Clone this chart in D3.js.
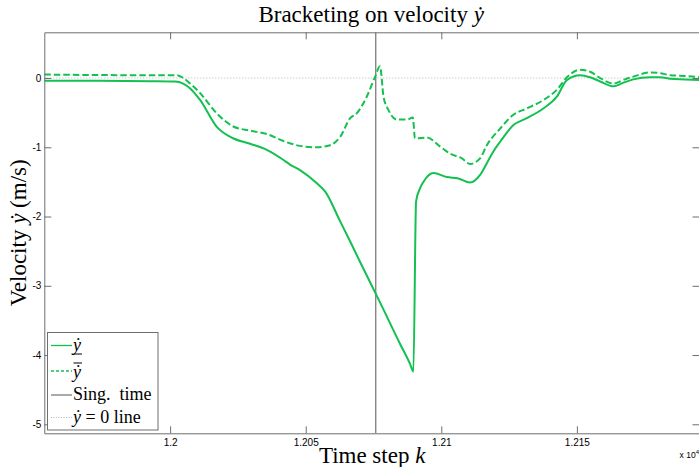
<!DOCTYPE html>
<html><head><meta charset="utf-8">
<script src="https://cdn.jsdelivr.net/npm/d3@7"></script>
<style>html,body{margin:0;padding:0;background:#fff;}svg{display:block;}</style>
</head><body>
<script>
// ---- data ----
const kLower = [11953.6,11974.2,11992.6,12001.8,12004.8,12007.4,12011.1,12017.3,12023.2,12029.5,12035.8,12041.7,12044.2,12047.9,12054.1,12057.2,12062.7,12066.4,12070.1,12077.4,12084.8,12088.5,12089.7,12090.7,12092.2,12093.4,12097.1,12102.0,12106.3,12110.6,12114.3,12116.8,12119.2,12121.7,12126.6,12131.5,12137.6,12142.6,12146.3,12151.2,12154.9,12158.6,12163.5,12167.0,12170.8,12177.0,12180.7,12184.4,12189.9,12195.4];
const vLower = [-0.04,-0.04,-0.045,-0.05,-0.08,-0.15,-0.32,-0.71,-0.87,-0.95,-1.04,-1.18,-1.25,-1.33,-1.52,-1.64,-2.07,-2.36,-2.66,-3.24,-3.84,-4.13,-4.24,-1.78,-1.59,-1.50,-1.37,-1.43,-1.45,-1.51,-1.40,-1.23,-1.06,-0.92,-0.68,-0.58,-0.44,-0.27,-0.03,0.04,0.01,-0.05,-0.12,-0.07,-0.02,0.01,0.01,-0.01,-0.02,-0.03];
const kUpper = [11953.6,11992.6,12002.5,12004.9,12007.4,12011.1,12017.2,12023.3,12029.5,12035.7,12041.8,12047.9,12054.1,12059.0,12062.7,12066.4,12068.8,12072.5,12075.6,12077.4,12078.7,12080.5,12083.6,12087.3,12089.5,12090.3,12094.7,12099.6,12103.2,12107.6,12110.6,12114.3,12116.8,12121.7,12126.6,12131.5,12137.6,12142.6,12146.3,12151.2,12154.9,12158.6,12163.5,12167.0,12170.8,12177.0,12180.7,12184.4,12189.9,12195.4];
const vUpper = [0.05,0.04,0.04,0.0,-0.08,-0.22,-0.51,-0.70,-0.76,-0.81,-0.91,-0.98,-1.00,-0.97,-0.85,-0.58,-0.51,-0.27,0.02,0.17,-0.27,-0.46,-0.60,-0.60,-0.57,-0.87,-0.86,-0.99,-1.09,-1.16,-1.24,-1.16,-0.97,-0.73,-0.53,-0.44,-0.32,-0.17,0.01,0.12,0.09,0.0,-0.08,-0.03,0.02,0.08,0.07,0.04,0.03,0.01];
const singTime = 12075.85;
const xTicks = [12000, 12050, 12100, 12150];
const xTickLabels = ["1.2", "1.205", "1.21", "1.215"];
const yTicks = [0, -1, -2, -3, -4, -5];
const yTickLabels = ["0", "-1", "-2", "-3", "-4", "-5"];
const xDomain = [11953.6, 12195.4];
const yDomain = [-5.13, 0.66];

// ---- layout ----
const W = 699, H = 467;
const L = 44.3, R = 700, T = 32.3, B = 433.3;
const green = "#12c150";
const serif = "'Liberation Serif', 'Times New Roman', serif";
const sans = "'Liberation Sans', Arial, sans-serif";

const svg = d3.select("body").append("svg").attr("width", W).attr("height", H);
const x = d3.scaleLinear().domain(xDomain).range([L, R]);
const y = d3.scaleLinear().domain(yDomain).range([B, T]);

svg.append("clipPath").attr("id", "clip").append("rect")
  .attr("x", L).attr("y", T).attr("width", R - L).attr("height", B - T);
const plot = svg.append("g").attr("clip-path", "url(#clip)");

// zero line
plot.append("line").attr("x1", L).attr("x2", R).attr("y1", y(0)).attr("y2", y(0))
  .attr("stroke", "#b5b5b5").attr("stroke-width", 1).attr("stroke-dasharray", "1,2");
// singular time
plot.append("line").attr("x1", x(singTime)).attr("x2", x(singTime)).attr("y1", T).attr("y2", B)
  .attr("stroke", "#555").attr("stroke-width", 1);

const line = d3.line().x(d => x(d[0])).y(d => y(d[1])).curve(d3.curveMonotoneX);
plot.append("path").datum(kUpper.map((k, i) => [k, vUpper[i]]))
  .attr("d", line).attr("fill", "none").attr("stroke", green).attr("stroke-width", 2)
  .attr("stroke-linejoin", "round").attr("stroke-dasharray", "6.5,3");
plot.append("path").datum(kLower.map((k, i) => [k, vLower[i]]))
  .attr("d", line).attr("fill", "none").attr("stroke", green).attr("stroke-width", 2)
  .attr("stroke-linejoin", "round");

// axes (box with inward ticks)
const axisColor = "#6e6e6e";
const tl = 7;
const gx = svg.append("g").attr("transform", `translate(0,${B})`)
  .call(d3.axisBottom(x).tickValues(xTicks).tickFormat((d, i) => xTickLabels[i]).tickSizeInner(-tl).tickSizeOuter(0).tickPadding(4));
const gxt = svg.append("g").attr("transform", `translate(0,${T})`)
  .call(d3.axisTop(x).tickValues(xTicks).tickFormat("").tickSizeInner(-tl).tickSizeOuter(0));
const gy = svg.append("g").attr("transform", `translate(${L},0)`)
  .call(d3.axisLeft(y).tickValues(yTicks).tickFormat((d, i) => yTickLabels[i]).tickSizeInner(-tl).tickSizeOuter(0).tickPadding(3));
const gyr = svg.append("g").attr("transform", `translate(${R - 0.5},0)`)
  .call(d3.axisRight(y).tickValues(yTicks).tickFormat("").tickSizeInner(-tl).tickSizeOuter(0));
[gx, gxt, gy, gyr].forEach(g => {
  g.selectAll("path.domain").attr("stroke", axisColor);
  g.selectAll("line").attr("stroke", axisColor);
  g.selectAll("text").attr("font-family", sans).attr("font-size", 10).attr("fill", "#000");
});
gx.selectAll(".tick text").attr("dy", "0.9em");

// multiplier label
svg.append("text").attr("x", 699).attr("y", 458).attr("text-anchor", "end")
  .attr("font-family", sans).attr("font-size", 8.5).attr("fill", "#000")
  .html('x 10<tspan dy="-4" font-size="6">4</tspan>');

// title
const title = svg.append("text").attr("x", (L + R) / 2 - 1).attr("y", 22).attr("text-anchor", "middle")
  .attr("font-family", serif).attr("font-size", 23).attr("fill", "#000");
title.append("tspan").text("Bracketing on velocity ");
title.append("tspan").attr("font-style", "italic").text("\u1E8F");

// x label
const xl = svg.append("text").attr("x", (L + R) / 2).attr("y", 463).attr("text-anchor", "middle")
  .attr("font-family", serif).attr("font-size", 23).attr("fill", "#000");
xl.append("tspan").text("Time step ");
xl.append("tspan").attr("font-style", "italic").text("k");

// y label
const yl = svg.append("text").attr("transform", `translate(26,${(T + B) / 2}) rotate(-90)`)
  .attr("text-anchor", "middle").attr("font-family", serif).attr("font-size", 23).attr("fill", "#000");
yl.append("tspan").text("Velocity ");
yl.append("tspan").attr("font-style", "italic").text("\u1E8F");
yl.append("tspan").text(" (m/s)");

// legend
const lg = svg.append("g");
lg.append("rect").attr("x", 47.5).attr("y", 332.5).attr("width", 110.5).attr("height", 97.5)
  .attr("fill", "#fff").attr("stroke", axisColor).attr("stroke-width", 1);
const items = [
  {dash: null, color: green, w: 1.3, label: "lower"},
  {dash: "3,2", color: green, w: 1.3, label: "upper"},
  {dash: null, color: "#555", w: 1, label: "sing"},
  {dash: "1,1.5", color: "#b5b5b5", w: 1, label: "zero"}
];
const ys = [345.5, 371, 395, 417.5];
items.forEach((it, i) => {
  const yy = ys[i];
  const ln = lg.append("line").attr("x1", 51).attr("x2", 72).attr("y1", yy).attr("y2", yy)
    .attr("stroke", it.color).attr("stroke-width", it.w);
  if (it.dash) ln.attr("stroke-dasharray", it.dash);
  const t = lg.append("text").attr("x", 73).attr("y", yy + 5).attr("font-family", serif)
    .attr("font-size", 18).attr("fill", "#000");
  if (it.label === "lower") {
    t.append("tspan").attr("font-style", "italic").text("\u1E8F");
    lg.append("line").attr("x1", 73.5).attr("x2", 82).attr("y1", yy + 8.5).attr("y2", yy + 8.5)
      .attr("stroke", "#000").attr("stroke-width", 1);
  } else if (it.label === "upper") {
    t.attr("y", yy + 7).append("tspan").attr("font-style", "italic").text("\u1E8F");
    lg.append("line").attr("x1", 73.5).attr("x2", 82).attr("y1", yy - 8).attr("y2", yy - 8)
      .attr("stroke", "#000").attr("stroke-width", 1);
  } else if (it.label === "sing") {
    t.text("Sing.\u00A0 time");
  } else {
    t.append("tspan").attr("font-style", "italic").text("\u1E8F");
    t.append("tspan").text(" = 0 line");
  }
});
</script>
</body></html>
